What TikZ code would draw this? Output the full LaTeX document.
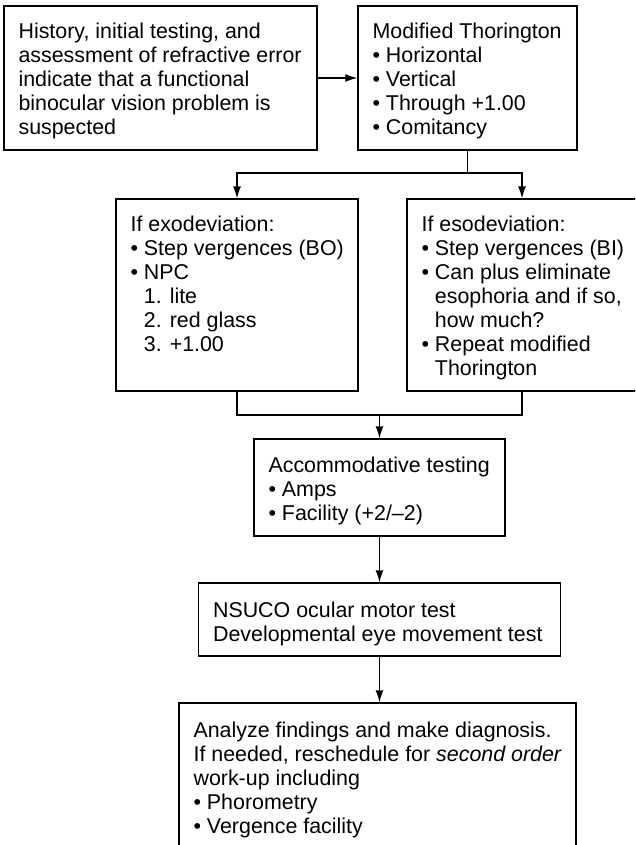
\documentclass[tikz,border=0pt]{standalone}
\usepackage{fontspec}
\setmainfont{Liberation Sans}
\usetikzlibrary{arrows.meta}
\newcommand{\myind}{\phantom{•\ }}
\begin{document}
\begin{tikzpicture}[x=1pt,y=-1pt,
  box/.style={draw=black, line width=1.3pt, rectangle, inner sep=0pt},
  txt/.style={anchor=north west, inner sep=0pt, align=left,
    font=\fontsize{21.4}{24}\selectfont},
  conn/.style={line width=1.3pt},
  arr/.style={line width=1.3pt, -{Latex[length=12pt,width=8pt]}}]
\clip (0,0) rectangle (635,845);
\fill[white] (0,0) rectangle (635,845);
% boxes
\node[box, minimum width=313pt, minimum height=144pt] (A) at (160.5,78) {};
\node[box, minimum width=219pt, minimum height=144pt] (B) at (467.5,78) {};
\node[box, minimum width=242pt, minimum height=192pt] (C) at (237,295) {};
\node[box, minimum width=230pt, minimum height=192pt] (D) at (522,295) {};
\node[box, minimum width=251pt, minimum height=97pt] (E) at (379.5,487.5) {};
\node[box, minimum width=362pt, minimum height=73pt] (F) at (379.5,619.5) {};
\node[box, minimum width=397pt, minimum height=200pt] (G) at (377.5,803) {};
% texts
\node[txt] (At) at ([shift={(15,17)}]A.north west) {History, initial testing, and\\assessment of refractive error\\indicate that a functional\\binocular vision problem is\\suspected};
\node[txt] (Bt) at ([shift={(15,17)}]B.north west) {Modified Thorington\\• Horizontal\\• Vertical\\• Through +1.00\\• Comitancy};
\node[txt] (Ct) at ([shift={(15,17)}]C.north west) {If exodeviation:\\• Step vergences (BO)\\• NPC\\\myind 1. lite\\\myind 2. red glass\\\myind 3. +1.00};
\node[txt] (Dt) at ([shift={(15,17)}]D.north west) {If esodeviation:\\• Step vergences (BI)\\• Can plus eliminate\\\myind esophoria and if so,\\\myind how much?\\• Repeat modified\\\myind Thorington};
\node[txt] (Et) at ([shift={(15,18)}]E.north west) {Accommodative testing\\• Amps\\• Facility (+2/–2)};
\node[txt] (Ft) at ([shift={(15,19)}]F.north west) {NSUCO ocular motor test\\Developmental eye movement test};
\node[txt] (Gt) at ([shift={(15,19)}]G.north west) {Analyze findings and make diagnosis.\\If needed, reschedule for \textit{second order}\\work-up including\\• Phorometry\\• Vergence facility};
% connectors
\draw[arr] (A.east) -- (B.west);
\coordinate (split) at (467.5,173);
\draw[conn] (B.south) -- (split);
\draw[arr] (split) -| (C.north);
\draw[arr] (split) -| (D.north);
\coordinate (merge) at (379.5,415);
\draw[conn] (C.south) |- (merge);
\draw[conn] (D.south) |- (merge);
\draw[arr] (merge) -- (E.north);
\draw[arr] (E.south) -- (F.north);
\draw[arr] (F.south) -- (F.south |- G.north);
\end{tikzpicture}
\end{document}
